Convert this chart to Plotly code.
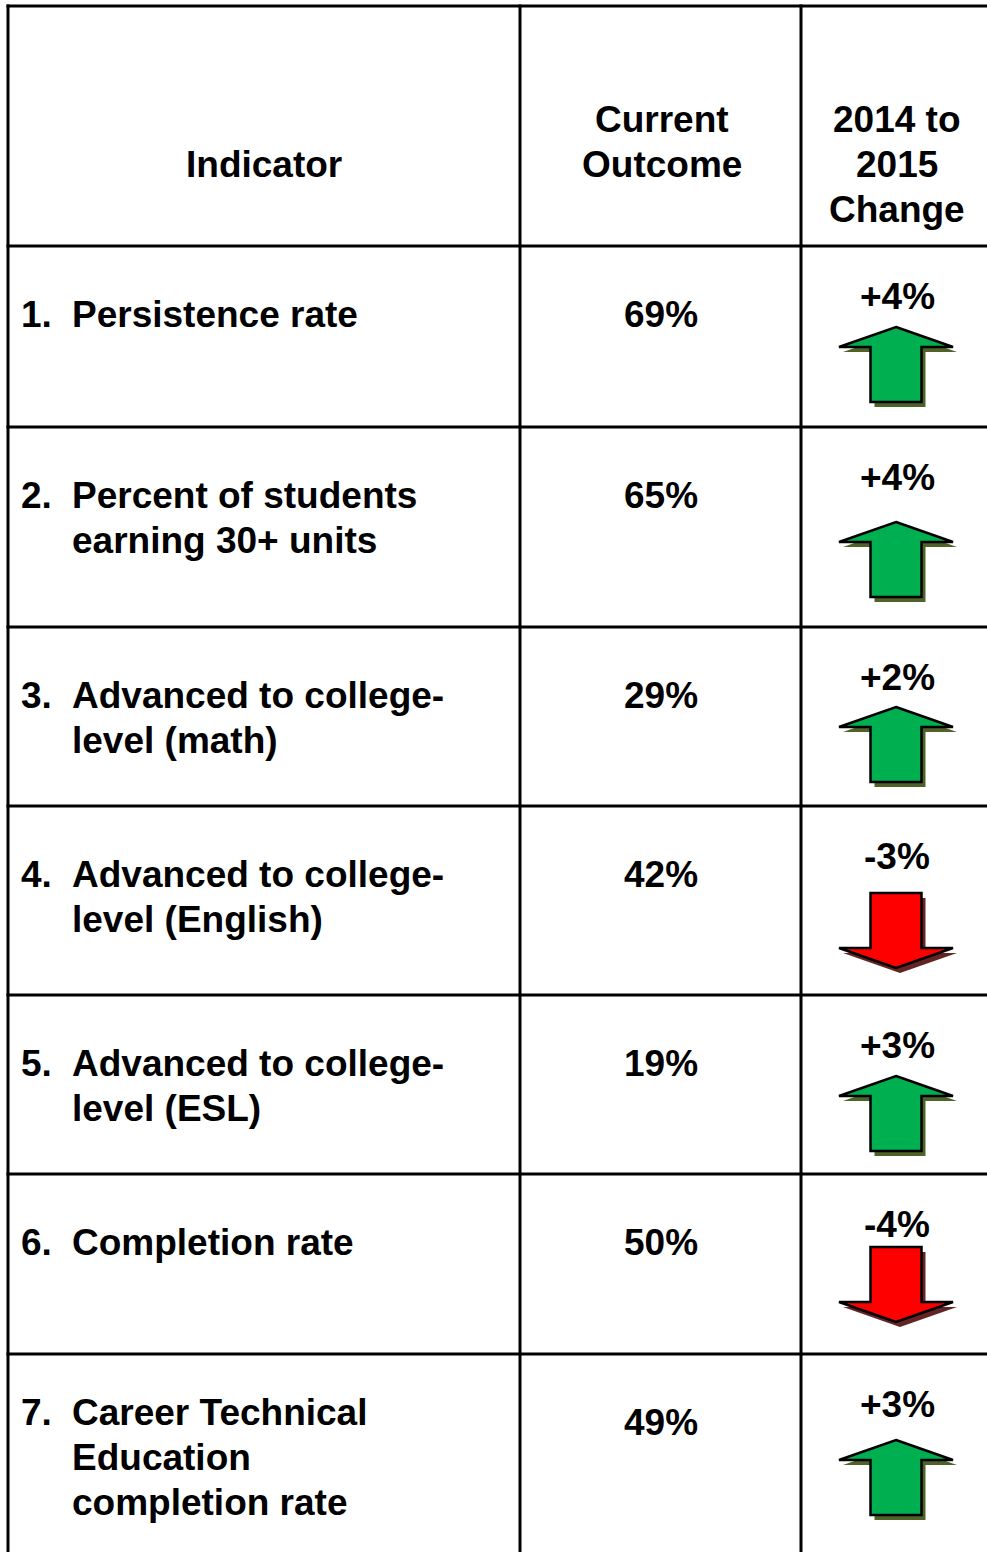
import plotly.graph_objects as go

# ---- data ----
numbers = ["1.", "2.", "3.", "4.", "5.", "6.", "7."]
indicators = [
    ["Persistence rate"],
    ["Percent of students", "earning 30+ units"],
    ["Advanced to college-", "level (math)"],
    ["Advanced to college-", "level (English)"],
    ["Advanced to college-", "level (ESL)"],
    ["Completion rate"],
    ["Career Technical", "Education", "completion rate"],
]
outcomes = [69, 65, 29, 42, 19, 50, 49]
changes = [4, 4, 2, -3, 3, -4, 3]
headers = [["Indicator"], ["Current", "Outcome"], ["2014 to", "2015", "Change"]]

# ---- layout geometry (pixels) ----
W, H = 987, 1552
col_x = [8, 520, 801, 1100]
row_y = [6, 246, 427, 627, 806, 995, 1174, 1354, 1700]
col_centers = [264, 662, 897]
arrow_top = [327, 522, 707, 893, 1076, 1247, 1440]
arrow_cx = 896
LINE = 45
FS = 37
FONT = dict(family="Arial, Liberation Sans, sans-serif", size=FS, color="black", weight="bold")

fig = go.Figure()
shapes = []
ann = []

# grid lines
for x in col_x[:3]:
    shapes.append(dict(type="line", x0=x, x1=x, y0=row_y[0] - 1.5, y1=H + 10,
                       line=dict(color="black", width=3), layer="above"))
for y in row_y[:8]:
    shapes.append(dict(type="line", x0=col_x[0] - 1.5, x1=W + 10, y0=y, y1=y,
                       line=dict(color="black", width=3), layer="above"))


def add_text(x, y, txt, anchor="center"):
    ann.append(dict(x=x, y=y, xref="x", yref="y", text=txt, showarrow=False,
                    xanchor=anchor, yanchor="middle", font=FONT))


# headers
header_y0 = [164, 119, 119]
for ci, lines in enumerate(headers):
    for li, t in enumerate(lines):
        add_text(col_centers[ci], header_y0[ci] + li * LINE, t)

# rows
for i in range(len(numbers)):
    top = row_y[i + 1]
    first = top + 68 if len(indicators[i]) < 3 else top + 58
    add_text(19, first, numbers[i], "left")
    for li, t in enumerate(indicators[i]):
        add_text(70, first + li * LINE, t, "left")
    add_text(col_centers[1] - 1, top + 68, f"{outcomes[i]}%")
    sign = "+" if changes[i] > 0 else "-"
    add_text(col_centers[2], top + 50, f"{sign}{abs(changes[i])}%")

    # arrow
    a = arrow_top[i]
    cx = arrow_cx
    hw, sw, hh, L = 57, 25.5, 20, 75
    if changes[i] > 0:
        pts = [(cx, a), (cx + hw, a + hh), (cx + sw, a + hh), (cx + sw, a + L),
               (cx - sw, a + L), (cx - sw, a + hh), (cx - hw, a + hh)]
        fill, shade = "#00B050", "#4F6228"
    else:
        pts = [(cx - sw, a), (cx + sw, a), (cx + sw, a + L - hh), (cx + hw, a + L - hh),
               (cx, a + L), (cx - hw, a + L - hh), (cx - sw, a + L - hh)]
        fill, shade = "#FF0000", "#632523"

    def path(p, dx=0, dy=0):
        return "M " + " L ".join(f"{x + dx},{y + dy}" for x, y in p) + " Z"

    shapes.append(dict(type="path", path=path(pts, 4, 5), fillcolor=shade,
                       line=dict(width=0), layer="above"))
    shapes.append(dict(type="path", path=path(pts), fillcolor=fill,
                       line=dict(color="black", width=2.5), layer="above"))

fig.update_layout(
    width=W, height=H, margin=dict(l=0, r=0, t=0, b=0),
    paper_bgcolor="white", plot_bgcolor="white",
    xaxis=dict(range=[0, W], visible=False, fixedrange=True),
    yaxis=dict(range=[H, 0], visible=False, fixedrange=True),
    shapes=shapes, annotations=ann, showlegend=False,
)
fig.write_html(
    "out.html",
    config={"displayModeBar": False},
    post_script="document.body.style.margin='0';document.body.style.overflow='hidden';",
)
